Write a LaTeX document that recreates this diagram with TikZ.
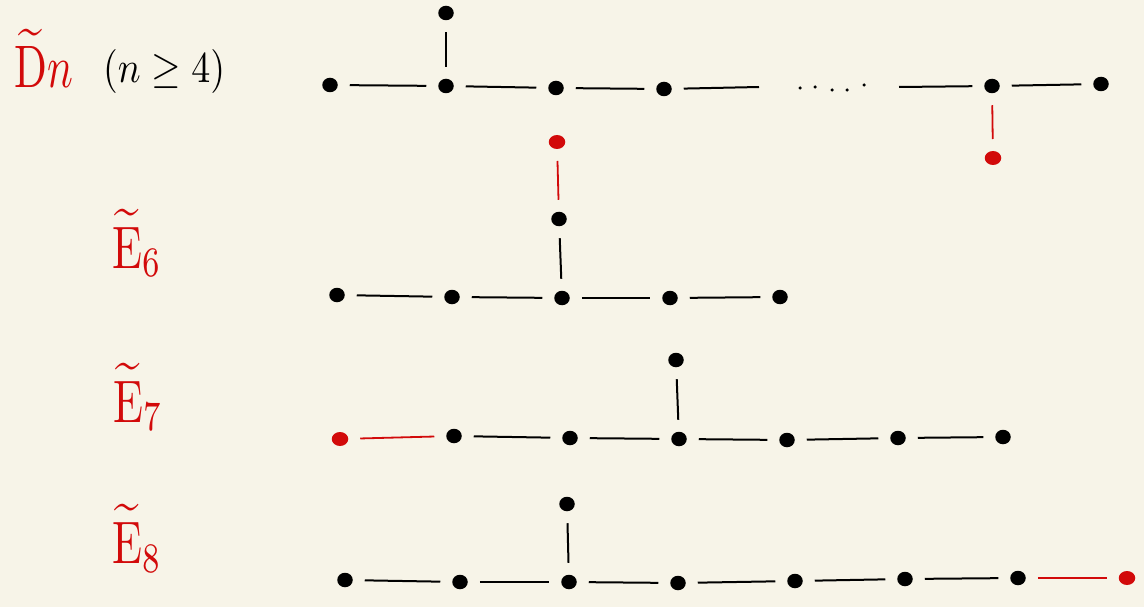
\documentclass[tikz,border=0pt]{standalone}
\usepackage{amsmath}
\usepackage{graphicx}
\usetikzlibrary{shapes.geometric}
\begin{document}
\begin{tikzpicture}[x=1pt,y=-1pt,
  dot/.style={ellipse,fill=black,inner sep=0pt,outer sep=0pt,minimum width=15.5pt,minimum height=14.5pt},
  rdot/.style={dot,fill=myred,minimum width=16.5pt,minimum height=14pt},
  tiny/.style={circle,fill=black,inner sep=0pt,minimum size=3.5pt},
  edge/.style={line width=2pt,shorten >=12pt,shorten <=12pt},
  redge/.style={edge,draw=myred,line width=1.8pt},
  lab/.style={anchor=base west,inner sep=0pt,text=myred},
  blab/.style={anchor=base west,inner sep=0pt,text=black}]
\definecolor{myred}{HTML}{D20A0A}
\definecolor{bg}{HTML}{F7F4E8}
\useasboundingbox (0,0) rectangle (1144,607);
\fill[bg] (0,0) rectangle (1144,607);

% labels
\node[lab] (lD) at (14,88) {\scalebox{4.3}[6]{$\widetilde{\mathrm{D}}n$}};
\node[blab] (lDc) at (103,83) {\scalebox{3.8}[4.4]{$(n\geq 4)$}};
\node[lab] (lE6) at (112,268) {\scalebox{4.4}[6]{$\widetilde{\mathrm{E}}_6$}};
\node[lab] (lE7) at (113,422) {\scalebox{4.4}[6]{$\widetilde{\mathrm{E}}_7$}};
\node[lab] (lE8) at (112,563) {\scalebox{4.4}[6]{$\widetilde{\mathrm{E}}_8$}};

% D_n
\node[dot] (d1) at (330,85) {};
\node[dot] (d2) at (446,86) {};
\node[dot] (d0) at (446,13) {};
\node[dot] (d3) at (556,88) {};
\node[dot] (d4) at (664,89) {};
\coordinate (d5) at (759,87);
\coordinate (d6) at (899,87);
\node[dot] (d7) at (992,86) {};
\node[dot] (d8) at (1101,84) {};
\node[rdot] (dr) at (993,158) {};
\draw[edge] (d1) -- (d2);
\draw[edge] (d2) -- (d0);
\draw[edge] (d2) -- (d3);
\draw[edge] (d3) -- (d4);
\draw[edge,shorten >=0pt] (d4) -- (d5);
\draw[edge,shorten <=0pt] (d6) -- (d7);
\draw[edge] (d7) -- (d8);
\draw[redge] (d7) -- (dr);
\node[tiny] (t1) at (800,88) {};
\node[tiny] (t2) at (815,87) {};
\node[tiny] (t3) at (832,90) {};
\node[tiny] (t4) at (847,90) {};
\node[tiny] (t5) at (864,85) {};

% E6
\node[dot] (e1) at (337,295) {};
\node[dot] (e2) at (452,297) {};
\node[dot] (e3) at (562,298) {};
\node[dot] (e4) at (670,298) {};
\node[dot] (e5) at (780,297) {};
\node[dot] (e6) at (559,219) {};
\node[rdot] (e7) at (557,142) {};
\draw[edge] (e1) -- (e2);
\draw[edge] (e2) -- (e3);
\draw[edge] (e3) -- (e4);
\draw[edge] (e4) -- (e5);
\draw[edge] (e3) -- (e6);
\draw[redge] (e6) -- (e7);

% E7
\node[rdot] (f0) at (340,439) {};
\node[dot] (f1) at (454,436) {};
\node[dot] (f2) at (570,438) {};
\node[dot] (f3) at (679,439) {};
\node[dot] (f4) at (787,440) {};
\node[dot] (f5) at (898,438) {};
\node[dot] (f6) at (1003,437) {};
\node[dot] (f7) at (676,360) {};
\draw[redge] (f0) -- (f1);
\draw[edge] (f1) -- (f2);
\draw[edge] (f2) -- (f3);
\draw[edge] (f3) -- (f4);
\draw[edge] (f4) -- (f5);
\draw[edge] (f5) -- (f6);
\draw[edge] (f3) -- (f7);

% E8
\node[dot] (g1) at (345,580) {};
\node[dot] (g2) at (460,582) {};
\node[dot] (g3) at (569,582) {};
\node[dot] (g4) at (678,583) {};
\node[dot] (g5) at (795,581) {};
\node[dot] (g6) at (905,579) {};
\node[dot] (g7) at (1018,578) {};
\node[rdot] (g8) at (1127,578) {};
\node[dot] (g9) at (567,504) {};
\draw[edge] (g1) -- (g2);
\draw[edge] (g2) -- (g3);
\draw[edge] (g3) -- (g4);
\draw[edge] (g4) -- (g5);
\draw[edge] (g5) -- (g6);
\draw[edge] (g6) -- (g7);
\draw[redge] (g7) -- (g8);
\draw[edge] (g3) -- (g9);
\end{tikzpicture}
\end{document}
